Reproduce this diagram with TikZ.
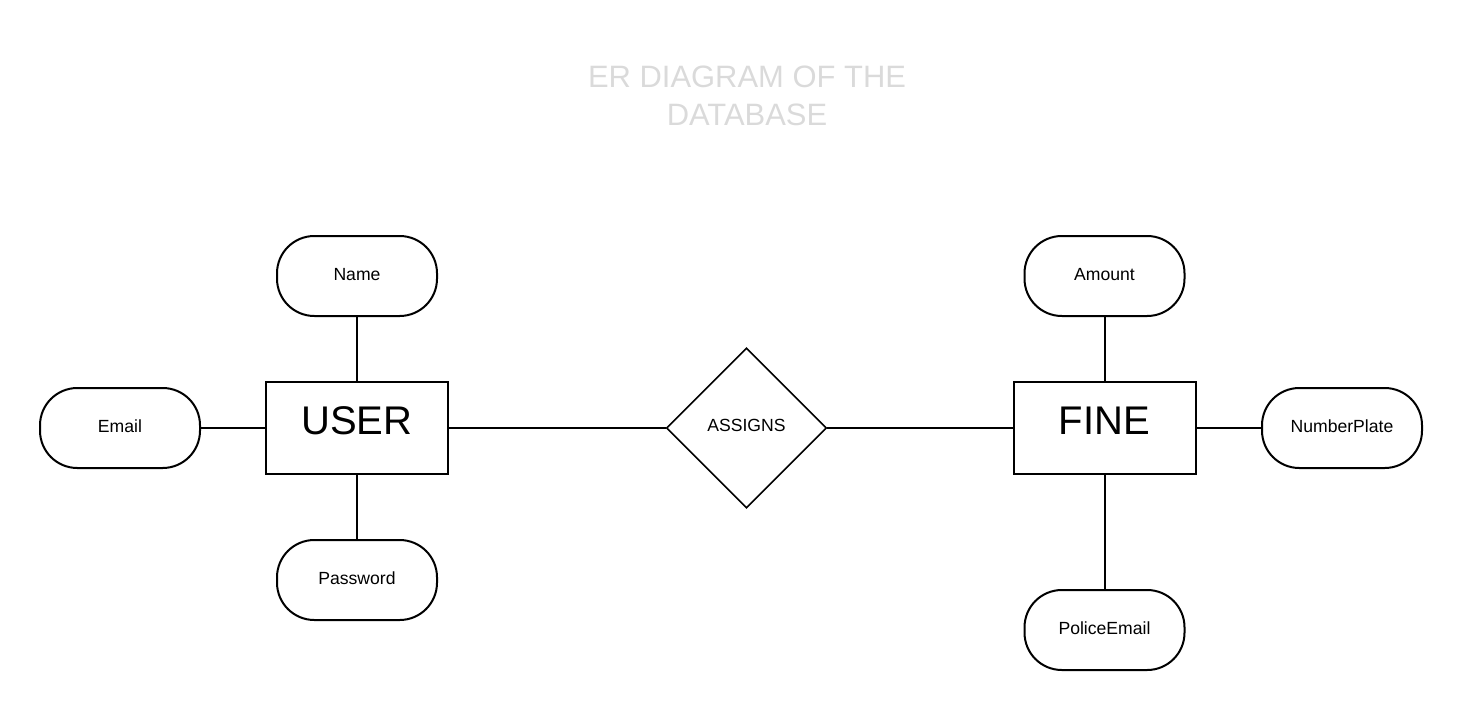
\documentclass[tikz,border=0pt]{standalone}
\usepackage{fontspec}
\setmainfont{Liberation Sans}
\usetikzlibrary{shapes.geometric}
\definecolor{titlegray}{RGB}{218,218,218}
\tikzset{
  attr/.style={draw, line width=1.5pt, rectangle, rounded corners=28pt, minimum width=120pt, minimum height=60pt, inner sep=0pt, text height=10pt, text depth=3.54pt, font=\fontsize{13.2}{15}\selectfont},
  entity/.style={draw, line width=1.5pt, rectangle, minimum width=136.5pt, minimum height=69pt, inner sep=0pt, text height=22pt, text depth=12.6pt, font=\fontsize{30}{34}\selectfont},
  relation/.style={draw, line width=1.2pt, diamond, minimum width=120pt, minimum height=120pt, inner sep=0pt, text height=10pt, text depth=5.04pt, font=\fontsize{13.2}{15}\selectfont},
  conn/.style={line width=1.5pt}
}
\begin{document}
\begin{tikzpicture}[x=0.75pt,y=-0.75pt]
\useasboundingbox (0,0) rectangle (1463,710);
\node[align=center, text=titlegray, font=\fontsize{23.2}{28.5}\selectfont] (title) at (747,96) {ER DIAGRAM OF THE\\DATABASE};
\node[entity] (user) at (357,428) {USER};
\node[entity] (fine) at (1104.5,428) {FINE};
\node[relation] (assigns) at (746.5,428) {ASSIGNS};
\node[attr] (name) at (357,276) {Name};
\node[attr] (email) at (120,428) {Email};
\node[attr] (password) at (357,580) {Password};
\node[attr] (amount) at (1104.5,276) {Amount};
\node[attr] (plate) at (1342,428) {NumberPlate};
\node[attr] (police) at (1104.5,630) {PoliceEmail};
\draw[conn] (name) -- (user);
\draw[conn] (email) -- (user);
\draw[conn] (password) -- (user);
\draw[conn] (user) -- (assigns);
\draw[conn] (assigns) -- (fine);
\draw[conn] (amount) -- (fine);
\draw[conn] (fine) -- (plate);
\draw[conn] (fine) -- (police);
\end{tikzpicture}
\end{document}
